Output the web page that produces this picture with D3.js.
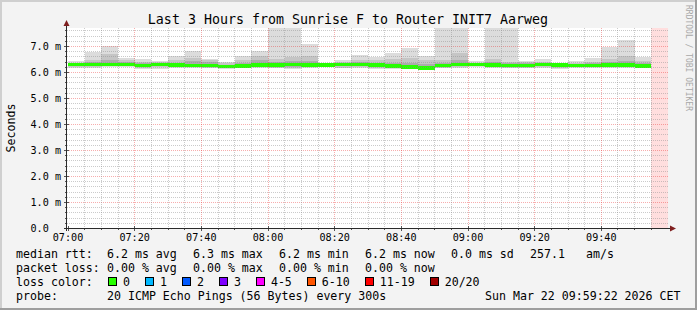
<!DOCTYPE html>
<html><head><meta charset="utf-8">
<script src="https://cdn.jsdelivr.net/npm/d3@7"></script>
<style>
html,body{margin:0;padding:0;background:#f3f3f3}
svg{display:block}
text{font-family:"DejaVu Sans Mono",monospace;fill:#000}
</style>
</head><body><svg id="c" width="697" height="310"></svg>
<script>
// ---------- data ----------
const title = "Last 3 Hours from Sunrise F to Router INIT7 Aarweg";
const binTimes = ["07:00","07:05","07:10","07:15","07:20","07:25","07:30","07:35","07:40","07:45","07:50","07:55",
  "08:00","08:05","08:10","08:15","08:20","08:25","08:30","08:35","08:40","08:45","08:50","08:55",
  "09:00","09:05","09:10","09:15","09:20","09:25","09:30","09:35","09:40","09:45","09:50"];
const unknownBins = ["09:55"];
// smoke (ms): outer band, middle band, inner band, median
const smokeMax = [6.41,6.76,7.01,6.53,6.48,6.42,6.63,6.82,6.50,6.39,6.60,6.80,
  8.40,8.40,7.07,6.33,6.47,6.65,6.59,6.73,6.92,6.63,8.40,8.40,
  6.42,8.40,8.40,6.44,6.48,6.33,6.44,6.52,6.96,7.23,6.59];
const smokeHi2 = [6.36,6.45,6.70,6.45,6.40,6.37,6.45,6.55,6.45,6.33,6.45,6.62,
  6.50,6.56,6.60,6.31,6.40,6.45,6.45,6.50,6.55,6.45,6.45,6.72,
  6.36,6.50,6.40,6.38,6.40,6.30,6.36,6.40,6.50,6.60,6.44];
const smokeHi3 = [6.33,6.37,6.47,6.38,6.34,6.33,6.36,6.42,6.40,6.28,6.35,6.45,
  6.38,6.42,6.44,6.30,6.35,6.38,6.35,6.35,6.35,6.30,6.35,6.45,
  6.33,6.38,6.33,6.33,6.35,6.28,6.31,6.33,6.38,6.42,6.35];
const medianRtt = [6.28,6.28,6.29,6.29,6.25,6.28,6.27,6.25,6.25,6.21,6.24,6.27,
  6.26,6.28,6.27,6.26,6.29,6.29,6.27,6.22,6.19,6.16,6.25,6.28,
  6.28,6.27,6.25,6.25,6.29,6.26,6.25,6.25,6.27,6.27,6.22];
const smokeLo3 = [6.22,6.22,6.24,6.25,6.20,6.22,6.22,6.20,6.20,6.16,6.19,6.22,
  6.20,6.20,6.22,6.23,6.22,6.24,6.18,6.17,6.15,6.13,6.19,6.22,
  6.24,6.21,6.20,6.20,6.24,6.20,6.21,6.21,6.20,6.21,6.18];
const smokeLo2 = [6.20,6.18,6.22,6.22,6.16,6.18,6.18,6.18,6.17,6.14,6.17,6.20,
  6.17,6.17,6.20,6.22,6.17,6.20,6.15,6.15,6.13,6.11,6.17,6.20,
  6.22,6.18,6.17,6.17,6.20,6.16,6.19,6.19,6.18,6.19,6.16];
const smokeMin = [6.17,6.15,6.20,6.20,6.11,6.13,6.14,6.15,6.15,6.13,6.15,6.17,
  6.14,6.13,6.17,6.21,6.15,6.17,6.12,6.12,6.10,6.10,6.14,6.17,
  6.20,6.15,6.14,6.15,6.17,6.12,6.17,6.17,6.15,6.16,6.14];
const xTickLabels = ["07:00","07:20","07:40","08:00","08:20","08:40","09:00","09:20","09:40"];
const yTickValues = [0,1,2,3,4,5,6,7];
const yTickLabels = ["0.0  ","1.0 m","2.0 m","3.0 m","4.0 m","5.0 m","6.0 m","7.0 m"];
const yMax = 7.69;
const rttStats = ["6.2 ms avg","6.3 ms max","6.2 ms min","6.2 ms now","0.0 ms sd","257.1","am/s"];
const lossStats = ["0.00 % avg","0.00 % max","0.00 % min","0.00 % now"];
const lossLabels = ["0","1","2","3","4-5","6-10","11-19","20/20"];
const lossColors = ["#26ff00","#00b8ff","#0059ff","#7e00ff","#ff00ff","#ff5500","#ff0000","#a10000"];
const probeText = "20 ICMP Echo Pings (56 Bytes) every 300s";
const stampText = "Sun Mar 22 09:59:22 2026 CET";

// ---------- drawing ----------
const svg = d3.select("#c");
const W = 697, H = 310;
const parse = s => { const [h,m] = s.split(":").map(Number); return new Date(2026,2,22,h,m); };
const step = 5*60*1000;
const x = d3.scaleTime().domain([parse("07:00"), parse("10:00")]).range([68,668]);
const y = d3.scaleLinear().domain([0, yMax]).range([228, 28]);
const L = 67, R = 668, T = 28, B = 228;

// background & border
svg.append("rect").attr("width",W).attr("height",H).attr("fill","#f3f3f3");
svg.append("rect").attr("x",0).attr("y",0).attr("width",W).attr("height",2).attr("fill","#cfcfcf");
svg.append("rect").attr("x",0).attr("y",0).attr("width",2).attr("height",H).attr("fill","#cfcfcf");
svg.append("rect").attr("x",0).attr("y",H-2).attr("width",W).attr("height",2).attr("fill","#9e9e9e");
svg.append("rect").attr("x",W-2).attr("y",0).attr("width",2).attr("height",H).attr("fill","#9e9e9e");

// canvas
svg.append("rect").attr("x",L).attr("y",T).attr("width",R-L).attr("height",B-T).attr("fill","#fff");
svg.append("clipPath").attr("id","cp").append("rect").attr("x",L).attr("y",T).attr("width",R-L).attr("height",B-T);
const plot = svg.append("g").attr("clip-path","url(#cp)").attr("shape-rendering","crispEdges");

// unknown (pink)
plot.selectAll("rect.unk").data(unknownBins).join("rect").attr("class","unk")
  .attr("x",d=>x(parse(d))).attr("width",d=>x(new Date(+parse(d)+step))-x(parse(d)))
  .attr("y",T).attr("height",B-T).attr("fill","#ffdede");

// smoke layers
const layers = [[smokeMin,smokeMax,"#dcdcdc"],[smokeLo2,smokeHi2,"#c5c5c5"],[smokeLo3,smokeHi3,"#acacac"]];
layers.forEach(([lo,hi,col],li)=>{
  plot.selectAll("rect.l"+li).data(binTimes).join("rect").attr("class","l"+li)
    .attr("x",d=>x(parse(d))).attr("width",d=>x(new Date(+parse(d)+step))-x(parse(d)))
    .attr("y",(d,i)=>y(hi[i])).attr("height",(d,i)=>y(lo[i])-y(hi[i])).attr("fill",col);
});
// median
plot.selectAll("rect.med").data(binTimes).join("rect").attr("class","med")
  .attr("x",d=>x(parse(d))).attr("width",d=>x(new Date(+parse(d)+step))-x(parse(d)))
  .attr("y",(d,i)=>y(medianRtt[i])-1.8).attr("height",3.6).attr("fill","#26ff00");

// grid
const grid = svg.append("g").attr("shape-rendering","crispEdges").attr("fill","none");
const minorCol = "rgba(140,140,140,0.45)", majorCol = "rgba(235,40,40,0.38)";
const yMinor = d3.range(1, Math.floor(yMax/0.2)+1).map(k=>k*0.2).filter(v=>Math.abs(v-Math.round(v))>0.01 && v<yMax);
grid.selectAll("line.hm").data(yMinor).join("line").attr("class","hm")
  .attr("x1",L).attr("x2",R).attr("y1",d=>Math.round(y(d))+0.5).attr("y2",d=>Math.round(y(d))+0.5)
  .attr("stroke",minorCol).attr("stroke-dasharray","1,1");
grid.selectAll("line.hM").data(yTickValues.filter(v=>v>0)).join("line").attr("class","hM")
  .attr("x1",L).attr("x2",R).attr("y1",d=>Math.round(y(d))+0.5).attr("y2",d=>Math.round(y(d))+0.5)
  .attr("stroke",majorCol).attr("stroke-dasharray","1,1");
const xMinor = d3.timeMinute.every(5).range(parse("07:05"), parse("10:00")).filter(d=>d.getMinutes()%20!==0);
const xMajor = xTickLabels.map(parse);
grid.selectAll("line.vm").data(xMinor).join("line").attr("class","vm")
  .attr("y1",T).attr("y2",B).attr("x1",d=>Math.floor(x(d))+0.5).attr("x2",d=>Math.floor(x(d))+0.5)
  .attr("stroke",minorCol).attr("stroke-dasharray","1,1");
grid.selectAll("line.vM").data(xMajor.slice(1)).join("line").attr("class","vM")
  .attr("y1",T).attr("y2",B).attr("x1",d=>Math.floor(x(d))+0.5).attr("x2",d=>Math.floor(x(d))+0.5)
  .attr("stroke",majorCol).attr("stroke-dasharray","1,1");

// ticks
const tk = svg.append("g").attr("shape-rendering","crispEdges").attr("stroke","#555");
tk.selectAll("line.ty").data(yMinor).join("line").attr("class","ty")
  .attr("x1",L-2).attr("x2",L).attr("y1",d=>Math.round(y(d))+0.5).attr("y2",d=>Math.round(y(d))+0.5);
tk.selectAll("line.tY").data(yTickValues).join("line").attr("class","tY")
  .attr("x1",L-3).attr("x2",L+2).attr("y1",d=>Math.round(y(d))+0.5).attr("y2",d=>Math.round(y(d))+0.5);
tk.selectAll("line.tx").data(xMinor).join("line").attr("class","tx")
  .attr("y1",B).attr("y2",B+2).attr("x1",d=>Math.floor(x(d))+0.5).attr("x2",d=>Math.floor(x(d))+0.5);
tk.selectAll("line.tX").data(xMajor).join("line").attr("class","tX")
  .attr("y1",B-2).attr("y2",B+3).attr("x1",d=>Math.floor(x(d))+0.5).attr("x2",d=>Math.floor(x(d))+0.5);

// axes
const ax = svg.append("g").attr("shape-rendering","crispEdges");
ax.append("line").attr("x1",L-0.5).attr("x2",L-0.5).attr("y1",B+3).attr("y2",T-5).attr("stroke","#2a2a2a");
ax.append("line").attr("x1",L-3).attr("x2",R+3).attr("y1",B+0.5).attr("y2",B+0.5).attr("stroke","#2a2a2a");
svg.append("path").attr("d",`M${L-0.5},${T-8} L${L-3.5},${T-2} L${L+2.5},${T-2} Z`).attr("fill","#7f1f1f");
svg.append("path").attr("d",`M${R+8},${B+0.5} L${R+2},${B-2.5} L${R+2},${B+3.5} Z`).attr("fill","#7f1f1f");

// tick labels
svg.selectAll("text.yl").data(yTickValues).join("text").attr("class","yl")
  .attr("x",61).attr("y",d=>y(d)).attr("dy","0.36em").attr("text-anchor","end")
  .style("font-size","10.15px").style("white-space","pre").text((d,i)=>yTickLabels[i]);
svg.selectAll("text.xl").data(xTickLabels).join("text").attr("class","xl")
  .attr("x",d=>x(parse(d))).attr("y",240.5).attr("text-anchor","middle")
  .style("font-size","10.15px").text(d=>d);

// title, unit, watermark
svg.append("text").attr("x",348).attr("y",23.5).attr("text-anchor","middle").style("font-size","13.3px").text(title);
svg.append("text").attr("transform","translate(15,128) rotate(-90)").attr("text-anchor","middle")
  .style("font-size","11.6px").text("Seconds");
svg.append("text").attr("transform","translate(685.5,5) rotate(90)").attr("text-anchor","start")
  .style("font-size","8px").style("fill","#a8a8a8").text("RRDTOOL / TOBI OETIKER");

// legend
const fs = "11.6px", cw = 6.98;
const rowY = [257.5, 271.5, 285.5, 299.5];
const colX = [107, 193, 279, 365, 451, 530, 586];
svg.append("text").attr("x",16).attr("y",rowY[0]).style("font-size",fs).text("median rtt:");
svg.selectAll("text.rs").data(rttStats).join("text").attr("class","rs")
  .attr("x",(d,i)=>colX[i]).attr("y",rowY[0]).style("font-size",fs).text(d=>d);
svg.append("text").attr("x",16).attr("y",rowY[1]).style("font-size",fs).text("packet loss:");
svg.selectAll("text.ls").data(lossStats).join("text").attr("class","ls")
  .attr("x",(d,i)=>colX[i]).attr("y",rowY[1]).style("font-size",fs).text(d=>d);
svg.append("text").attr("x",16).attr("y",rowY[2]).style("font-size",fs).text("loss color:");
let bx = 108;
lossLabels.forEach((lab,i)=>{
  svg.append("rect").attr("x",bx+0.5).attr("y",277.5).attr("width",8).attr("height",8)
    .attr("fill",lossColors[i]).attr("stroke","#000").attr("shape-rendering","crispEdges");
  svg.append("text").attr("x",bx+15).attr("y",rowY[2]).style("font-size",fs).text(lab);
  bx = bx + 15 + lab.length*cw + 15;
});
svg.append("text").attr("x",16).attr("y",rowY[3]).style("font-size",fs).text("probe:");
svg.append("text").attr("x",107).attr("y",rowY[3]).style("font-size",fs).text(probeText);
svg.append("text").attr("x",485).attr("y",rowY[3]).style("font-size",fs).text(stampText);
</script>
</body></html>
